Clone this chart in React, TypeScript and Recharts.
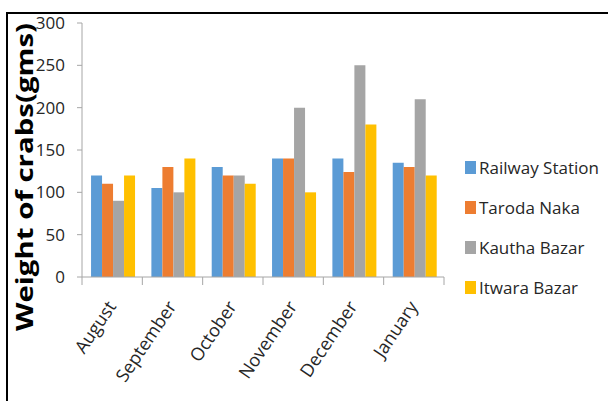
import React from "react";
import { BarChart, Bar, XAxis, YAxis } from "recharts";

const months = ["August", "September", "October", "November", "December", "January"];
const railwayStation = [120, 105, 130, 140, 140, 135];
const tarodaNaka = [110, 130, 120, 140, 124, 130];
const kauthaBazar = [90, 100, 120, 200, 250, 210];
const itwaraBazar = [120, 140, 110, 100, 180, 120];
const yTicks = [0, 50, 100, 150, 200, 250, 300];

const seriesList = [
  { key: "railway", name: "Railway Station", color: "#5B9BD5", values: railwayStation },
  { key: "taroda", name: "Taroda Naka", color: "#ED7D31", values: tarodaNaka },
  { key: "kautha", name: "Kautha Bazar", color: "#A5A5A5", values: kauthaBazar },
  { key: "itwara", name: "Itwara Bazar", color: "#FFC000", values: itwaraBazar },
];

const data = months.map((m, i) => {
  const row: Record<string, string | number> = { month: m };
  seriesList.forEach((s) => {
    row[s.key] = s.values[i];
  });
  return row;
});

const FONT = "'Open Sans', 'Liberation Sans', sans-serif";
const AXIS_GREY = "#A6A6A6";
const TEXT = "#262626";

const CHART_W = 608;
const CHART_H = 401;
const MARGIN = { top: 23, right: 164, bottom: 24, left: 12 };
const Y_AXIS_W = 70;
const BAND = (CHART_W - MARGIN.left - MARGIN.right - Y_AXIS_W) / months.length;

// Month labels, with tick marks placed on the boundaries between categories
const MonthTick = (props: any) => {
  const { x, y, payload } = props;
  const isLast = payload.value === months[months.length - 1];
  const tx = x - 8;
  const ty = y + 21;
  return (
    <g>
      <line x1={x - BAND / 2} x2={x - BAND / 2} y1={y} y2={y + 8} stroke={AXIS_GREY} strokeWidth={1} />
      {isLast && (
        <line x1={x + BAND / 2} x2={x + BAND / 2} y1={y} y2={y + 8} stroke={AXIS_GREY} strokeWidth={1} />
      )}
      <text
        x={tx}
        y={ty}
        textAnchor="end"
        dominantBaseline="hanging"
        transform={`rotate(-56, ${tx}, ${ty})`}
        fontFamily={FONT}
        fontSize={18}
        fill={TEXT}
      >
        {payload.value}
      </text>
    </g>
  );
};

const YLabel = (props: any) => {
  const vb = props.viewBox || { x: 12, y: 23, width: 70, height: 254 };
  const cx = vb.x + 11;
  const cy = vb.y + vb.height / 2 + 27;
  return (
    <text
      x={cx}
      y={cy}
      transform={`rotate(-90, ${cx}, ${cy})`}
      textAnchor="middle"
      dominantBaseline="central"
      fontFamily={FONT}
      fontWeight="bold"
      fontSize={24}
      textLength={308}
      lengthAdjust="spacingAndGlyphs"
      fill="#000"
    >
      Weight of crabs(gms)
    </text>
  );
};

const LegendBlock = () => (
  <div style={{ position: "absolute", left: 465, top: 147, fontFamily: FONT }}>
    {seriesList.map((s) => (
      <div
        key={s.key}
        style={{ display: "flex", alignItems: "center", height: 40, whiteSpace: "nowrap" }}
      >
        <div style={{ width: 11, height: 13, background: s.color, marginRight: 3 }} />
        <span style={{ fontSize: 17, color: TEXT }}>{s.name}</span>
      </div>
    ))}
  </div>
);

export default function App() {
  return (
    <div
      style={{
        position: "absolute",
        left: 0,
        top: 0,
        width: CHART_W,
        height: CHART_H,
        overflow: "hidden",
        background: "#fff",
      }}
    >
      <div
        style={{
          position: "absolute",
          left: 6,
          top: 12,
          width: 800,
          height: 600,
          border: "2px solid #000",
          boxSizing: "border-box",
        }}
      />
      <BarChart
        width={CHART_W}
        height={CHART_H}
        data={data}
        margin={MARGIN}
        barCategoryGap="15%"
        barGap={0}
        style={{ position: "absolute", left: 0, top: 0 }}
      >
        <XAxis
          dataKey="month"
          axisLine={{ stroke: AXIS_GREY }}
          tickLine={false}
          tickSize={0}
          tickMargin={0}
          interval={0}
          height={100}
          tick={<MonthTick />}
        />
        <YAxis
          domain={[0, 300]}
          ticks={yTicks}
          interval={0}
          width={Y_AXIS_W}
          axisLine={{ stroke: AXIS_GREY }}
          tickLine={{ stroke: AXIS_GREY }}
          tickSize={5}
          tickMargin={12}
          tick={{ fontFamily: FONT, fontSize: 17, fill: TEXT }}
          label={<YLabel />}
        />
        {seriesList.map((s) => (
          <Bar key={s.key} dataKey={s.key} name={s.name} fill={s.color} isAnimationActive={false} />
        ))}
      </BarChart>
      <LegendBlock />
    </div>
  );
}
